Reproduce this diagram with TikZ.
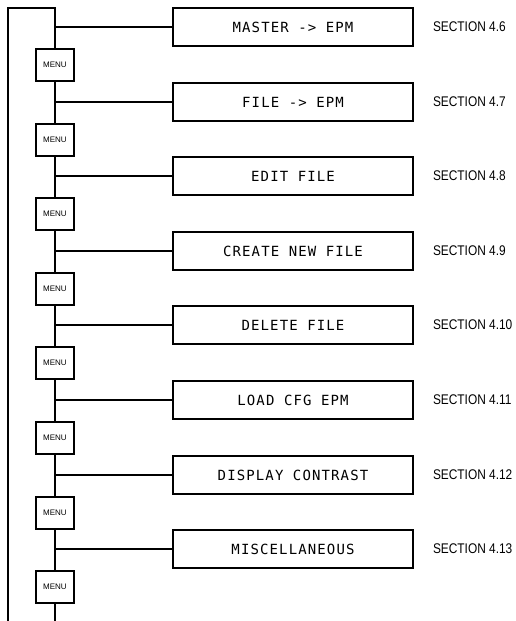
\documentclass[tikz,border=0pt]{standalone}
\usepackage{fontspec}
\newfontfamily\itemfont[LetterSpace=8]{DejaVu Sans Mono}
\newfontfamily\labfont{Liberation Sans}
\newfontfamily\secfont[FakeStretch=0.85]{Liberation Sans}

\begin{document}
\begin{tikzpicture}[x=1pt,y=-1pt,line width=2pt]
  \tikzset{
    itembox/.style={draw,minimum width=240pt,minimum height=38pt,inner sep=0pt,
      font=\itemfont\fontsize{14}{14}\selectfont},
    menubox/.style={draw,minimum width=38pt,minimum height=32pt,inner sep=0pt,
      font=\labfont\fontsize{8}{8}\selectfont},
    seclabel/.style={anchor=west,inner sep=0pt,font=\secfont\fontsize{14}{14}\selectfont}
  }
  \useasboundingbox (0,0) rectangle (516,621);
  % items, menu keys and section references
  \foreach \txt/\sec [count=\i] in {MASTER -> EPM/4.6,FILE -> EPM/4.7,EDIT FILE/4.8,
      CREATE NEW FILE/4.9,DELETE FILE/4.10,LOAD CFG EPM/4.11,
      DISPLAY CONTRAST/4.12,MISCELLANEOUS/4.13}{
    \pgfmathsetmacro\yy{round(27+(\i-1)*74.6)}
    \pgfmathsetmacro\ym{\yy+38}
    \node[itembox] (item\i) at (293,\yy) {\txt};
    \node[seclabel] (sec\i) at (432,\yy) {SECTION \sec};
    \node[menubox] (menu\i) at (55,\ym) {MENU};
    \coordinate (jn\i) at (55,\yy);
    \draw (jn\i) -- (item\i.west);
  }
  % main loop line
  \coordinate (corner) at (8,8);
  \coordinate (top) at (55,8);
  \coordinate (bot) at (8,621);
  \coordinate (tail) at (55,621);
  \draw (bot) -- (corner) -- (top) -- (menu1.north);
  \foreach \i in {2,...,8}{
    \pgfmathtruncatemacro\p{\i-1}
    \draw (menu\p.south) -- (menu\i.north);
  }
  \draw (menu8.south) -- (tail);
\end{tikzpicture}
\end{document}
